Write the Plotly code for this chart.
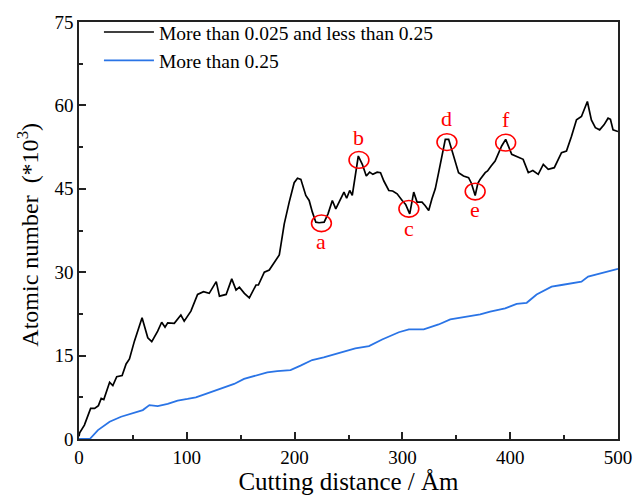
import plotly.graph_objects as go

# Black series: more than 0.025 and less than 0.25
x_black = [0, 0.6, 5, 10.8, 14.5, 18, 20.6, 23, 28.4, 31.4, 35, 40, 43.7, 46.8, 51.4, 58.5, 63.8, 67.5, 73, 76.7,
           79.8, 82.3, 88.4, 94.5, 97.6, 103.8, 110, 115.5, 120.8, 127.3, 130.3, 136.5, 141.7, 145.7, 148.8, 153.4,
           158, 164.2, 166.4, 171.9, 176.5, 182.7, 185.8, 187.3, 190.4, 195, 199.6, 202.7, 205.8, 210.4, 213.5,
           216.5, 219.7, 222.7, 227.4, 231, 235, 238.2, 241.2, 245.8, 248.3, 251.1, 253.5, 256.6, 259.1, 262.8,
           266.5, 269.6, 272.6, 276.6, 279.7, 282.8, 287.4, 291, 295.1, 299.8, 303, 306.8, 310.5, 313.6, 318.2,
           321, 324.4, 327.4, 330.5, 333.6, 337, 339.8, 342.9, 347.5, 352.1, 356.7, 361.4, 364, 367.5, 370, 372.2,
           376.8, 379, 382.3, 386, 392.1, 395.8, 401.4, 407.6, 412, 416.8, 421, 426, 430.7, 435.3, 440.9, 447.6,
           452.2, 456.8, 461.5, 466.1, 471.6, 475.3, 479, 483, 487, 490.8, 493, 495.4, 499.4, 500]
y_black = [0.5, 1.1, 2.5, 5.5, 5.5, 6.0, 7.3, 7.1, 10.2, 9.6, 11.2, 11.4, 13.5, 14.4, 17.6, 21.8, 18.2, 17.5, 19.4,
           21.0, 20.1, 20.9, 20.8, 22.3, 21.2, 23.0, 26.0, 26.5, 26.2, 28.3, 25.7, 26.0, 28.8, 26.8, 27.3, 26.2,
           25.4, 27.7, 27.7, 30.0, 30.4, 32.2, 33.1, 34.9, 38.7, 42.6, 46.1, 46.9, 46.7, 43.8, 42.9, 40.8, 39.0,
           38.9, 39.0, 40.5, 42.9, 41.4, 42.6, 44.4, 43.3, 44.7, 43.8, 47.9, 50.9, 49.4, 47.3, 48.0, 47.6, 48.0,
           47.9, 46.4, 44.7, 44.6, 44.1, 42.9, 42.2, 40.5, 44.4, 42.6, 42.6, 42.0, 41.1, 43.2, 45.0, 47.9, 51.0,
           53.9, 53.9, 50.9, 47.9, 47.3, 47.0, 46.0, 43.8, 46.0, 46.7, 47.9, 48.2, 49.1, 50.0, 52.7, 53.9, 51.2,
           50.6, 50.3, 47.9, 48.3, 47.6, 49.4, 48.5, 48.8, 51.5, 51.8, 54.4, 57.4, 58.0, 60.7, 57.4, 56.0, 55.6,
           56.5, 57.7, 57.5, 55.6, 55.3, 55.3]

# Blue series: more than 0.25
x_blue = [0, 10, 17.6, 28.4, 39, 48.4, 59.2, 65.3, 73, 82.3, 91.5, 100.7, 108.4, 117.7, 127, 134.6, 143.9, 153.1,
          163.9, 174.7, 183.9, 196.2, 205.5, 216.3, 227, 237.8, 248.6, 256.3, 269, 281.2, 296.7, 306, 319.8, 333.6,
          344.4, 358.3, 372.2, 381.4, 395.3, 406, 415.3, 424.5, 438.4, 447.6, 466.1, 472.3, 484.6, 500]
y_blue = [0, 0, 1.6, 3.1, 4.0, 4.6, 5.2, 6.1, 5.9, 6.3, 6.9, 7.2, 7.5, 8.1, 8.7, 9.3, 9.9, 10.8, 11.4, 12.0, 12.2,
          12.4, 13.2, 14.2, 14.7, 15.3, 15.9, 16.3, 16.7, 17.9, 19.2, 19.7, 19.7, 20.6, 21.5, 21.9, 22.4, 22.9, 23.5,
          24.3, 24.5, 26.0, 27.4, 27.7, 28.3, 29.2, 29.8, 30.6]

series_names = ["More than 0.025 and less than 0.25", "More than 0.25"]

# Marked points
mark_labels = ["a", "b", "c", "d", "e", "f"]
mark_x = [224.9, 259.7, 306.0, 341.3, 367.5, 395.8]
mark_y = [38.8, 50.2, 41.4, 53.4, 44.5, 53.3]
label_y = [35.5, 54.2, 37.8, 57.7, 41.2, 57.4]

x_ticks = [0, 100, 200, 300, 400, 500]
y_ticks = [0, 15, 30, 45, 60, 75]

FONT = "Liberation Serif, Times New Roman, serif"

fig = go.Figure()
fig.add_trace(go.Scatter(x=x_black, y=y_black, mode="lines", name=series_names[0],
                         line=dict(color="black", width=1.7)))
fig.add_trace(go.Scatter(x=x_blue, y=y_blue, mode="lines", name=series_names[1],
                         line=dict(color="#2a74e6", width=1.8)))

for lab, cx, cy, ly in zip(mark_labels, mark_x, mark_y, label_y):
    fig.add_shape(type="circle", xref="x", yref="y",
                  x0=cx - 9.2, x1=cx + 9.2, y0=cy - 1.5, y1=cy + 1.5,
                  line=dict(color="#ff0000", width=1.6))
    fig.add_annotation(x=cx, y=ly, text=lab, showarrow=False, xref="x", yref="y",
                       font=dict(family=FONT, size=22, color="#ff0000"))

fig.add_annotation(xref="paper", yref="paper", x=0, y=0.49, xshift=-51, xanchor="center", yanchor="middle",
                   text="Atomic number  (*10<sup>3</sup>)",
                   textangle=-90, showarrow=False, font=dict(family=FONT, size=24, color="black"))

axis_common = dict(showline=True, linecolor="#222", linewidth=1.6, mirror=True, ticks="inside",
                   ticklen=7, tickwidth=1.5, tickcolor="#222", showgrid=False, zeroline=False,
                   tickfont=dict(family=FONT, size=19, color="black"))

fig.update_xaxes(range=[0, 500], tickvals=x_ticks,
                 minor=dict(ticks="inside", ticklen=4, tickwidth=1.5, tickcolor="#222", dtick=50, tick0=0),
                 title=dict(text="Cutting distance / Åm", font=dict(family=FONT, size=25, color="black"),
                            standoff=0),
                 **axis_common)
fig.update_yaxes(range=[0, 75], tickvals=y_ticks,
                 minor=dict(ticks="inside", ticklen=4, tickwidth=1.5, tickcolor="#222", dtick=7.5, tick0=0),
                 **axis_common)

fig.update_layout(
    width=644, height=499,
    margin=dict(l=79, r=24, t=18, b=60),
    paper_bgcolor="white", plot_bgcolor="white",
    showlegend=True,
    legend=dict(x=0.037, y=1.022, xanchor="left", yanchor="top", bgcolor="rgba(0,0,0,0)",
                font=dict(family=FONT, size=19.5, color="black"), itemwidth=50, tracegroupgap=0),
    font=dict(family=FONT),
)

fig.write_html("out.html")
